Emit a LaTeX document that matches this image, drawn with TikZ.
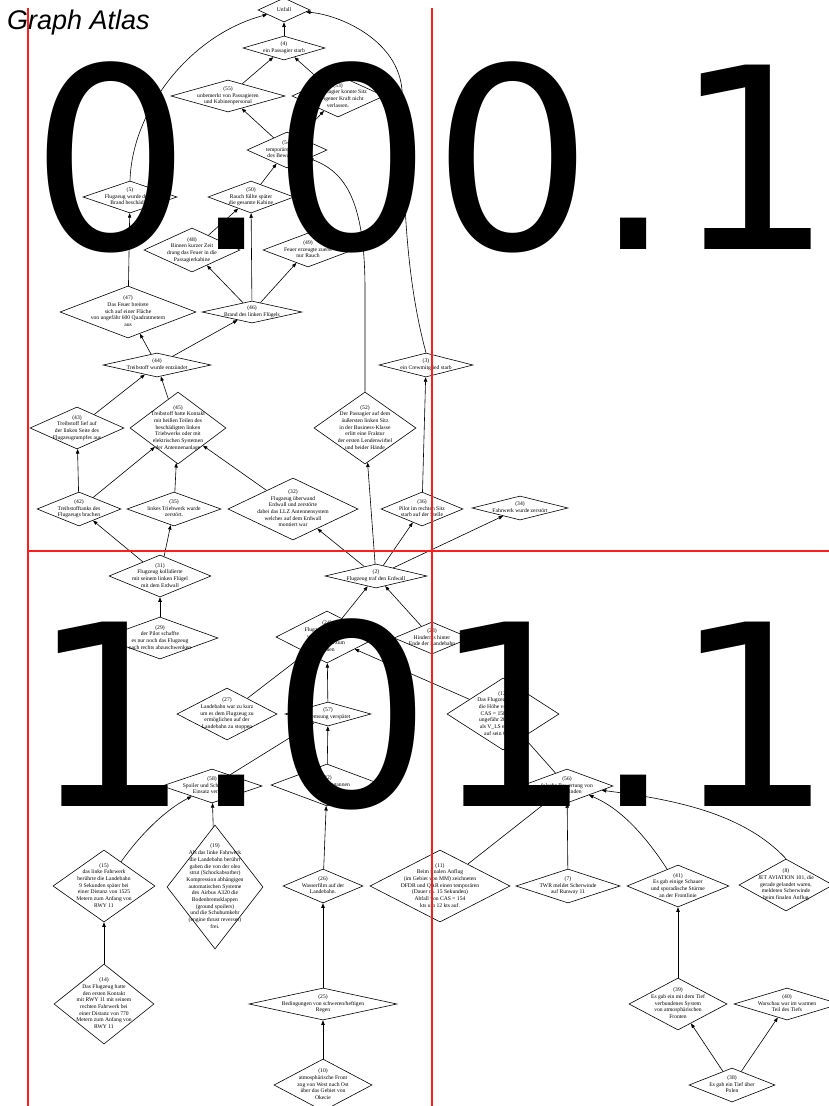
\documentclass[tikz,border=0pt]{standalone}
\usepackage{fontspec}
\setmainfont{Liberation Serif}
\newfontfamily\bigfont{DejaVu Sans}
\newfontfamily\titlefont{Liberation Sans}
\usetikzlibrary{shapes.geometric,arrows.meta}
\newcommand\dtext[1]{\smash{\makebox[0pt]{\raisebox{-1.3pt}{\begin{tabular}{@{}c@{}}#1\end{tabular}}}}}
\tikzset{
  dia/.style args={#1/#2}{diamond, draw, line width=0.6pt, inner sep=0pt,
    minimum width=2*#1, minimum height=2*#2, font=\fontsize{5.6}{6.7}\selectfont},
  arr/.style={line width=0.6pt, -{Triangle[length=4.5pt,width=3.4pt]}},
  redline/.style={draw={rgb,255:red,255;green,30;blue,30}, line width=1.2pt},
  bigtext/.style={anchor=base west, inner sep=0pt, font=\bigfont\fontsize{253}{253}\selectfont}
}
\begin{document}
\begin{tikzpicture}[x=1pt,y=-1pt]
\fill[white] (0,0) rectangle (829,1106);
\useasboundingbox (0,0) rectangle (829,1106);
% nodes
\node[dia=26/12] (n1) at (284,10) {\dtext{Unfall}};
\node[dia=41/12] (n4) at (284,48) {\dtext{(4)\\ein Passagier starb}};
\node[dia=57/16] (n55) at (228,96) {\dtext{(55)\\unbemerkt von Passagieren\\und Kabinenpersonal}};
\node[dia=46/21] (n53) at (338,96) {\dtext{(53)\\Der Passagier konnte Sitz\\aus eigener Kraft nicht\\verlassen.}};
\node[dia=40/18] (n54) at (287,150) {\dtext{(54)\\temporärer Verlust\\des Bewusstseins}};
\node[dia=47/16] (n5) at (130,197) {\dtext{(5)\\Flugzeug wurde durch\\Brand beschädigt}};
\node[dia=43/16] (n50) at (251,197) {\dtext{(50)\\Rauch füllte später\\die gesamte Kabine}};
\node[dia=48/22] (n48) at (192,250) {\dtext{(48)\\Binnen kurzer Zeit\\drang das Feuer in die\\Passagierkabine}};
\node[dia=45/17] (n49) at (308,250) {\dtext{(49)\\Feuer erzeugte zuerst\\nur Rauch}};
\node[dia=68/26] (n47) at (128,312) {\dtext{(47)\\Das Feuer breitete\\sich auf einer Fläche\\von ungefähr 600 Quadratmetern\\aus}};
\node[dia=50/11] (n46) at (252,312) {\dtext{(46)\\Brand des linken Flügels}};
\node[dia=54/12] (n44) at (157,365) {\dtext{(44)\\Treibstoff wurde entzündet}};
\node[dia=47/21] (n43) at (77,428) {\dtext{(43)\\Treibstoff lief auf\\der linken Seite des\\Flugzeugrumpfes aus}};
\node[dia=48/36] (n45) at (178,428) {\dtext{(45)\\Treibstoff hatte Kontakt\\mit heißen Teilen des\\beschädigten linken\\Triebwerks oder mit\\elektrischen Systemen\\der Antennenanlage}};
\node[dia=51/36] (n52) at (365,428) {\dtext{(52)\\Der Passagier auf dem\\äußersten linken Sitz\\in der Business-Klasse\\erlitt eine Fraktur\\der ersten Lendenwirbel\\und beider Hände}};
\node[dia=47/12] (n3) at (426,365) {\dtext{(3)\\ein Crewmitglied starb}};
\node[dia=42/17] (n42) at (79,509) {\dtext{(42)\\Treibstofftanks des\\Flugzeugs brachen}};
\node[dia=47/17] (n35) at (174,509) {\dtext{(35)\\linkes Triebwerk wurde\\zerstört.}};
\node[dia=65/31] (n32) at (293,509) {\dtext{(32)\\Flugzeug überwand\\Erdwall und zerstörte\\dabei das LLZ Antennensystem\\welches auf dem Erdwall\\montiert war}};
\node[dia=41/17] (n36) at (422,509) {\dtext{(36)\\Pilot im rechten Sitz\\starb auf der Stelle}};
\node[dia=48/12] (n34) at (520,508) {\dtext{(34)\\Fahrwerk wurde zerstört}};
\node[dia=51/21] (n31) at (160,576) {\dtext{(31)\\Flugzeug kollidierte\\mit seinem linken Flügel\\mit dem Erdwall}};
\node[dia=51/12] (n2) at (376,576) {\dtext{(2)\\Flugzeug traf den Erdwall}};
\node[dia=58/21] (n29) at (160,638) {\dtext{(29)\\der Pilot schaffte\\es nur noch das Flugzeug\\nach rechts abzuschwenken}};
\node[dia=51/26] (n24) at (327,637) {\dtext{(24)\\Flugzeug kam nicht\\vor dem Ende der\\Landebahn zum\\Stehen}};
\node[dia=38/16] (n23) at (432,638) {\dtext{(23)\\Hindernis hinter\\Ende der Landebahn}};
\node[dia=50/26] (n27) at (227,714) {\dtext{(27)\\Landebahn war zu kurz\\um es dem Flugzeug zu\\ermöglichen auf der\\Landebahn zu stoppen}};
\node[dia=43/12] (n57) at (328,714) {\dtext{(57)\\Bremsung verspätet}};
\node[dia=56/36] (n12) at (503,714) {\dtext{(12)\\Das Flugzeug überflog\\die Höhe von 1 ft mit\\CAS = 158 kts, was\\ungefähr 20 kts mehr\\als V\_LS empfohlen\\auf sein Gewicht}};
\node[dia=50/17] (n58) at (212,786) {\dtext{(58)\\Spoiler und Schubumkehr\\Einsatz verspätet}};
\node[dia=56/21] (n22) at (327,785) {\dtext{(22)\\Die Räder begannen\\zu aquaplanen}};
\node[dia=46/17] (n56) at (567,786) {\dtext{(56)\\falsche Bewertung von\\Scherwinden}};
\node[dia=51/36] (n15) at (104,886) {\dtext{(15)\\das linke Fahrwerk\\berührte die Landebahn\\9 Sekunden später bei\\einer Distanz von 1525\\Metern zum Anfang von\\RWY 11}};
\node[dia=48/62] (n19) at (215,887) {\dtext{(19)\\Als das linke Fahrwerk\\die Landebahn berührt\\gaben die von der oleo\\strut (Schockabsorber)\\Kompression abhängigen\\automatischen Systeme\\des Airbus A320 die\\Bodenbremsklappen\\(ground spoilers)\\und die Schubumkehr\\(engine thrust reverses)\\frei.}};
\node[dia=40/17] (n26) at (323,886) {\dtext{(26)\\Wasserfilm auf der\\Landebahn.}};
\node[dia=70/36] (n11) at (440,886) {\dtext{(11)\\Beim finalen Anflug\\(im Gebiet von MM) zeichneten\\DFDR und QAR einen temporären\\(Dauer ca. 15 Sekunden)\\Abfall von CAS = 154\\kts um 12 kts auf.}};
\node[dia=52/17] (n7) at (568,886) {\dtext{(7)\\TWR meldet Scherwinde\\auf Runway 11}};
\node[dia=51/21] (n41) at (678,886) {\dtext{(41)\\Es gab einige Schauer\\und sporadische Stürme\\an der Frontlinie}};
\node[dia=47/26] (n8) at (786,885) {\dtext{(8)\\JET AVIATION 101, die\\gerade gelandet waren,\\meldeten Scherwinde\\beim finalen Anflug}};
\node[dia=50/40] (n14) at (104,1004) {\dtext{(14)\\Das Flugzeug hatte\\den ersten Kontakt\\mit RWY 11 mit seinem\\rechten Fahrwerk bei\\einer Distanz von 770\\Metern zum Anfang von\\RWY 11}};
\node[dia=74/16] (n25) at (323,1004) {\dtext{(25)\\Bedingungen von schweren/heftigen\\Regen}};
\node[dia=49/26] (n39) at (678,1004) {\dtext{(39)\\Es gab ein mit dem Tief\\verbundenes System\\von atmosphärischen\\Fronten}};
\node[dia=53/16] (n40) at (787,1004) {\dtext{(40)\\Warschau war im warmen\\Teil des Tiefs}};
\node[dia=49/26] (n10) at (323,1085) {\dtext{(10)\\atmosphärische Front\\zog von West nach Ost\\über das Gebiet von\\Okecie}};
\node[dia=43/17] (n38) at (732,1085) {\dtext{(38)\\Es gab ein Tief über\\Polen}};
% straight edges
\foreach \a/\b in {n4/n1,n55/n4,n53/n4,n54/n55,n54/n53,n50/n54,n48/n50,n46/n50,n46/n48,n46/n49,
  n47/n5,n44/n47,n44/n46,n43/n44,n45/n44,n42/n43,n42/n45,n35/n45,n32/n45,n31/n42,n31/n35,
  n2/n32,n2/n52,n2/n36,n2/n34,n36/n3,n29/n31,n24/n2,n23/n2,n12/n24,n57/n24,n27/n24,
  n22/n57,n58/n57,n19/n58,n14/n15,n26/n22,n25/n26,n10/n25,n11/n56,n7/n56,n39/n41,
  n38/n39,n38/n40,n56/n12}
  \draw[arr] (\a) -- (\b);
% curved edges
\draw[arr] (n5.north) .. controls (132,110) and (190,35) .. (n1);
\draw[arr] (n3.north) .. controls (398,250) and (405,130) .. (402,90) .. controls (398,40) and (340,15) .. (n1);
\draw[arr] (n52.north) -- (365,290) .. controls (365,200) and (345,172) .. (n54);
\draw[arr] (n15) .. controls (140,835) and (165,810) .. (n58);
\draw[arr] (n41) .. controls (645,835) and (620,808) .. (n56);
\draw[arr] (n8.north) .. controls (745,815) and (680,800) .. (n56);
% overlays
\draw[redline] (28,8) -- (28,1106);
\draw[redline] (432,8) -- (432,1106);
\draw[redline] (28,551) -- (829,551);
\node[anchor=base west, inner sep=0pt, font=\titlefont\itshape\fontsize{27}{27}\selectfont] (title) at (7,29) {Graph Atlas};
\node[bigtext] (big1) at (30,249.5) {0.00.1};
\node[bigtext] (big2) at (30,806) {1.01.1};
\end{tikzpicture}
\end{document}
